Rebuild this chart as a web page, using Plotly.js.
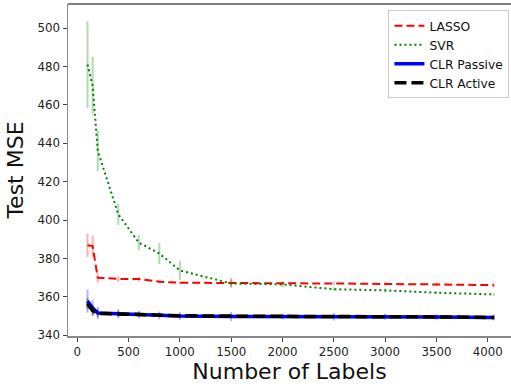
<!DOCTYPE html>
<html>
<head>
<meta charset="utf-8">
<script src="https://cdn.plot.ly/plotly-3.0.1.min.js"></script>
<style>html,body{margin:0;padding:0;background:#fff;}#chart{width:511px;height:387px;}</style>
</head>
<body>
<div id="chart"></div>
<script>
const labels = [100, 150, 200, 400, 600, 800, 1000, 1500, 2000, 2500, 3000, 3500, 4060];

const lasso     = [386.9, 386.5, 370.0, 369.4, 369.3, 367.9, 367.4, 367.4, 367.1, 367.0, 366.9, 366.5, 366.1];
const lassoErr  = [6.0, 5.5, 2.5, 1.5, 1.2, 1.0, 0.8, 2.5, 1.0, 1.0, 1.0, 1.0, 1.0];

const svr       = [481.0, 470.0, 436.0, 403.0, 388.3, 382.6, 373.8, 367.0, 366.5, 364.0, 363.4, 362.2, 361.3];
const svrErr    = [22.5, 15.0, 10.5, 5.5, 4.0, 5.5, 5.0, 2.0, 1.5, 1.0, 1.0, 0.7, 0.7];

const clrPassive    = [357.8, 354.2, 351.6, 351.2, 350.8, 350.3, 350.0, 349.8, 349.8, 349.7, 349.6, 349.5, 349.3];
const clrPassiveErr = [6.0, 4.0, 3.2, 2.4, 2.0, 2.0, 2.0, 2.4, 1.5, 2.0, 1.5, 1.5, 1.5];

const clrActive    = [356.5, 352.8, 351.4, 351.3, 350.9, 350.5, 350.2, 350.0, 350.0, 349.9, 349.8, 349.6, 349.3];
const clrActiveErr = [3.0, 2.5, 2.0, 1.5, 1.2, 1.0, 1.0, 1.0, 1.0, 1.0, 1.0, 1.0, 1.0];

const font = 'DejaVu Sans, sans-serif';

function tr(name, y, err, color, errColor, width, dash) {
  return {
    type: 'scatter', mode: 'lines', name: name,
    x: labels, y: y,
    line: {color: color, width: width, dash: dash},
    error_y: {type: 'data', array: err, visible: true, color: errColor, thickness: 2, width: 0}
  };
}

const data = [
  tr('LASSO', lasso, lassoErr, '#ff0000', 'rgba(255,0,0,0.3)', 2, '8px,4px'),
  tr('SVR', svr, svrErr, '#008000', 'rgba(0,128,0,0.3)', 2, '2px,3px'),
  tr('CLR Passive', clrPassive, clrPassiveErr, '#0000ff', 'rgba(0,0,255,0.3)', 3.5, 'solid'),
  tr('CLR Active', clrActive, clrActiveErr, '#000000', 'rgba(0,0,0,0.3)', 3.5, '12px,5px')
];

const layout = {
  width: 511, height: 387,
  margin: {l: 68, r: 0, t: 4, b: 50.5},
  paper_bgcolor: '#fff', plot_bgcolor: '#fff',
  showlegend: true,
  font: {family: font, color: '#222', size: 12},
  xaxis: {
    range: [-90, 4227],
    tickvals: [0, 500, 1000, 1500, 2000, 2500, 3000, 3500, 4000],
    ticks: 'outside', ticklen: 4, tickcolor: '#444', tickwidth: 1,
    showgrid: false, zeroline: false,
    showline: true, linecolor: '#888', linewidth: 1.5,
    tickfont: {family: font, size: 11.8, color: '#222'},
    title: {text: 'Number of Labels', font: {family: font, size: 22, color: '#111'}, standoff: 6},
    automargin: false
  },
  yaxis: {
    range: [339.65, 512.5],
    tickvals: [340, 360, 380, 400, 420, 440, 460, 480, 500],
    ticks: 'outside', ticklen: 4, tickcolor: '#444', tickwidth: 1,
    showgrid: false, zeroline: false,
    showline: true, linecolor: '#888', linewidth: 1.5,
    tickfont: {family: font, size: 11.8, color: '#222'},
    title: {text: 'Test MSE', font: {family: font, size: 22, color: '#111'}, standoff: 8},
    automargin: false
  },
  shapes: [
    {type: 'line', xref: 'paper', yref: 'paper', x0: 0, x1: 1, y0: 1, y1: 1, line: {color: '#000', width: 1.2}}
  ],
  legend: {
    x: 0.9965, y: 0.981, xanchor: 'right', yanchor: 'top',
    bgcolor: 'rgba(255,255,255,0.8)', bordercolor: '#ccc', borderwidth: 1,
    font: {family: font, size: 12.3, color: '#111'},
    itemwidth: 30, tracegroupgap: 0
  }
};

Plotly.newPlot('chart', data, layout, {displayModeBar: false, staticPlot: true});
</script>
</body>
</html>
